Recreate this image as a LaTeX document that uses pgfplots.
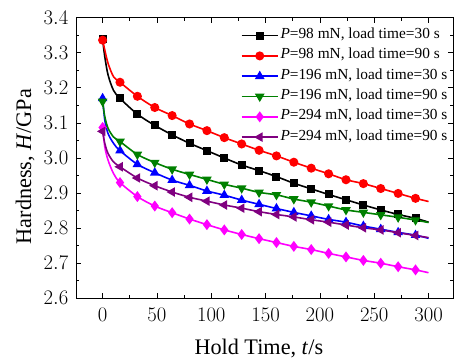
\documentclass[border=0pt]{standalone}
\usepackage{fontspec}
\setmainfont{Liberation Serif}
\usepackage{pgfplots}
\usepackage{pgfplotstable}
\pgfplotsset{compat=1.18}
\definecolor{cgreen}{RGB}{0,128,0}
\definecolor{cpurple}{RGB}{128,0,128}
\definecolor{cmag}{RGB}{255,0,255}
\pgfplotstableread{
t    bk    rd    bl    gr    mg    pu
0    3.338 3.336 3.170 3.161 3.087 3.076
2    3.289 3.308 3.108 3.118 3.032 3.042
5    3.237 3.270 3.070 3.085 2.994 3.013
10   3.193 3.232 3.042 3.060 2.956 2.989
16   3.170 3.216 3.021 3.047 2.930 2.975
32   3.125 3.176 2.982 3.010 2.890 2.943
48   3.093 3.144 2.958 2.987 2.863 2.921
64   3.066 3.121 2.937 2.968 2.844 2.903
80   3.042 3.097 2.922 2.953 2.826 2.888
96   3.021 3.078 2.906 2.939 2.810 2.877
112  3.000 3.058 2.894 2.925 2.795 2.866
128  2.980 3.040 2.880 2.914 2.782 2.857
144  2.964 3.022 2.868 2.902 2.770 2.847
160  2.947 3.006 2.856 2.895 2.759 2.839
176  2.928 2.988 2.845 2.883 2.748 2.832
192  2.912 2.971 2.835 2.874 2.739 2.824
208  2.896 2.955 2.825 2.863 2.728 2.817
224  2.881 2.938 2.817 2.852 2.718 2.809
240  2.866 2.927 2.806 2.845 2.708 2.801
256  2.852 2.913 2.797 2.838 2.700 2.795
272  2.839 2.899 2.788 2.831 2.690 2.787
288  2.828 2.885 2.780 2.823 2.681 2.779
300  2.817 2.876 2.771 2.816 2.673 2.773
}\datatab
\begin{document}
\begin{tikzpicture}
\useasboundingbox (-76bp,-60.7bp) rectangle (378bp,298.3bp);
\begin{axis}[
  at={(0,0)}, anchor=south west,
  scale only axis,
  width=377bp, height=280.6bp,
  xmin=-24.5, xmax=322.5, ymin=2.6, ymax=3.4,
  xtick={0,50,...,300}, ytick={2.6,2.7,...,3.4},
  minor x tick num=1, minor y tick num=1,
  tick align=inside,
  major tick length=5bp, minor tick length=3bp,
  axis line style={line width=1bp}, every tick/.style={line width=0.8bp, black},
  xticklabel={\pgfmathprintnumber{\tick}},
  yticklabel={\pgfmathprintnumber[fixed,fixed zerofill,precision=1]{\tick}},
  ticklabel style={font=\fontsize{22}{22}\selectfont, inner sep=0pt},
  xticklabel style={anchor=north, yshift=-9.5bp},
  yticklabel style={anchor=east, xshift=-7.5bp},
  xlabel={Hold Time, \textit{t}/s},
  ylabel={Hardness, \textit{H}/GPa},
  label style={font=\fontsize{22.3}{22.3}\selectfont},
  xlabel style={at={(axis description cs:0.485,-0.202)}, anchor=base},
  ylabel style={at={(axis description cs:-0.135,0.47)}, anchor=center},
  legend image code/.code={\draw[mark repeat=2,mark phase=2] plot coordinates {(0bp,0bp) (18bp,0bp) (36bp,0bp)};},
  legend style={draw=none, fill=none, at={(0.437,0.969)}, anchor=north west,
    font=\fontsize{15.4}{15.4}\selectfont, inner sep=0pt, row sep=2.3bp,
    nodes={inner sep=2bp, text height=10bp, text depth=4bp}},
  legend cell align=left,
  every axis plot/.append style={line width=1.6bp},
]
% lines
\addplot[black, line width=1.6bp, smooth, tension=0.5, no marks, forget plot] table[x=t,y=bk]{\datatab};
\addplot[red, line width=1.6bp, smooth, tension=0.5, no marks, forget plot] table[x=t,y=rd]{\datatab};
\addplot[blue, line width=1.6bp, smooth, tension=0.5, no marks, forget plot] table[x=t,y=bl]{\datatab};
\addplot[cgreen, line width=1.6bp, smooth, tension=0.5, no marks, forget plot] table[x=t,y=gr]{\datatab};
\addplot[cmag, line width=1.6bp, smooth, tension=0.5, no marks, forget plot] table[x=t,y=mg]{\datatab};
\addplot[cpurple, line width=1.6bp, smooth, tension=0.5, no marks, forget plot] table[x=t,y=pu]{\datatab};
% marks
\pgfplotsset{mk/.style={only marks, forget plot, skip coords between index={1}{4}, skip coords between index={22}{23}}}
\addplot[black, mk, mark=square*, mark size=3.2bp] table[x=t,y=bk]{\datatab};
\addplot[red, mk, mark=*, mark size=3.7bp] table[x=t,y=rd]{\datatab};
\addplot[blue, mk, mark=triangle*, mark size=4bp] table[x=t,y=bl]{\datatab};
\addplot[cgreen, mk, mark=triangle*, mark options={rotate=180}, mark size=4bp] table[x=t,y=gr]{\datatab};
\addplot[cmag, mk, mark=diamond*, mark size=4.2bp] table[x=t,y=mg]{\datatab};
\addplot[cpurple, mk, mark=triangle*, mark options={rotate=90}, mark size=4bp] table[x=t,y=pu]{\datatab};
% legend
\addlegendimage{black, line width=1.6bp, mark=square*, mark size=3.2bp}
\addlegendentry{\textit{P}=98 mN, load time=30 s}
\addlegendimage{red, line width=1.6bp, mark=*, mark size=3.7bp}
\addlegendentry{\textit{P}=98 mN, load time=90 s}
\addlegendimage{blue, line width=1.6bp, mark=triangle*, mark size=4bp}
\addlegendentry{\textit{P}=196 mN, load time=30 s}
\addlegendimage{cgreen, line width=1.6bp, mark=triangle*, mark options={rotate=180}, mark size=4bp}
\addlegendentry{\textit{P}=196 mN, load time=90 s}
\addlegendimage{cmag, line width=1.6bp, mark=diamond*, mark size=4.2bp}
\addlegendentry{\textit{P}=294 mN, load time=30 s}
\addlegendimage{cpurple, line width=1.6bp, mark=triangle*, mark options={rotate=90}, mark size=4bp}
\addlegendentry{\textit{P}=294 mN, load time=90 s}
\end{axis}
\end{tikzpicture}
\end{document}
